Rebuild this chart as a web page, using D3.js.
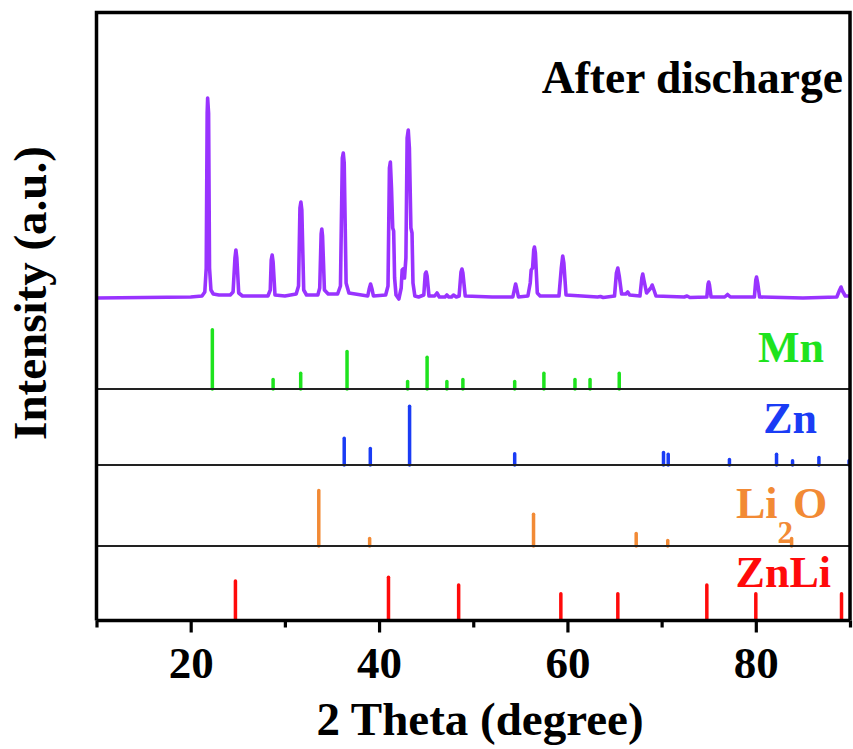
<!DOCTYPE html>
<html><head><meta charset="utf-8">
<script src="https://cdn.jsdelivr.net/npm/d3@7"></script>
<style>body{margin:0;background:#fff}</style>
</head><body><svg id="c" width="853" height="749"></svg>
<script>
// ---------- data ----------
const xTicks = [20, 40, 60, 80];
const xMinorTicks = [10, 30, 50, 70, 90];

// measured XRD pattern "After discharge": [2theta, intensity]
const afterDischarge = [
 [10,0],[15,0.5],[20,1],[21.2,2],[21.5,6],[21.65,30],[21.75,185],[21.8,200],[21.9,185],[22.0,30],[22.15,8],[22.4,4],[23,3],
 [24.2,3],[24.5,6],[24.7,40],[24.8,48],[24.9,40],[25.1,5],[25.5,2],[28.2,2],[28.45,8],[28.55,38],[28.65,43],[28.75,36],[28.95,3],
 [30,2],[31.2,4],[31.45,12],[31.6,90],[31.7,96],[31.8,88],[32.0,8],[32.3,3],[33.5,3],[33.7,10],[33.85,64],[33.92,69],[34.0,62],
 [34.2,8],[34.6,4],[35.6,4],[35.9,12],[36.1,140],[36.2,145],[36.3,135],[36.5,15],[36.8,5],[38.8,2],[38.95,9],[39.1,14],[39.25,9],
 [39.4,2],[40.7,3],[40.95,12],[41.1,130],[41.2,136],[41.32,110],[41.45,70],[41.55,67],[41.65,20],[41.8,3],[42.1,-1],[42.35,10],
 [42.45,28],[42.55,29],[42.7,20],[42.85,40],[42.98,160],[43.1,168],[43.22,150],[43.38,70],[43.5,65],[43.6,15],[43.8,2],[44.2,1],
 [44.75,3],[44.9,24],[45.0,26],[45.1,22],[45.3,2],[45.9,2],[46.15,5],[46.4,1],[47.0,1],[47.2,3],[47.4,1],[47.7,1],[47.9,3],
 [48.2,1],[48.5,2],[48.7,26],[48.8,29],[48.9,25],[49.15,2],[52,1],[54.2,1],[54.4,10],[54.5,14],[54.6,10],[54.8,1],[55.8,2],
 [56.05,15],[56.15,28],[56.3,30],[56.42,48],[56.5,51],[56.6,45],[56.8,5],[57.1,2],[59.1,2],[59.35,30],[59.5,42],[59.62,35],
 [59.85,3],[63.2,1],[63.5,1.5],[63.8,0.5],[65.0,2],[65.2,25],[65.35,30],[65.5,22],[65.75,4],[66.2,4],[66.4,6],[66.6,3],[67.7,2],
 [67.9,20],[68.0,24],[68.12,18],[68.4,5],[68.85,10],[69.0,13],[69.15,9],[69.4,2],[72.4,1],[72.7,2],[73.0,0.5],[74.8,1],[74.93,14],
 [75.0,16],[75.08,13],[75.25,1],[76.7,1],[77.0,3.5],[77.3,1],[79.85,1],[80.0,18],[80.08,21],[80.2,15],[80.4,1],[85,0],[88.6,1],
 [88.9,8],[89.05,11],[89.2,7],[89.5,2],[90,2]
];

// reference patterns (position, relative intensity)
const mnPos = [22.3, 28.75, 31.68, 36.6, 43.03, 45.1, 47.2, 48.9, 54.4, 57.5, 60.8, 62.4, 65.5];
const mnInt = [95, 17, 27, 61, 14, 52, 14, 17, 14, 27, 17, 17, 27];
const znPos = [36.3, 39.07, 43.24, 54.4, 70.2, 70.7, 77.2, 82.2, 83.9, 86.7, 89.9];
const znInt = [44, 28, 94, 20, 22, 19, 11, 19, 9, 14, 9];
const li2oPos = [33.6, 39.0, 56.4, 67.3, 70.65, 83.8];
const li2oInt = [89, 14, 52, 22, 11, 14];
const znliPos = [24.75, 41.0, 48.45, 59.3, 65.35, 74.8, 80.0, 89.1];
const znliInt = [64, 70, 58, 44, 44, 58, 44, 44];

// ---------- drawing ----------
const svg = d3.select("#c");
const font = "'Liberation Serif','Times New Roman',serif";
const L = 96.5, R = 850, T = 12.5, B = 620.5;
const x = d3.scaleLinear().domain([10, 90]).range([L, R]);
const yMain = d3.scaleLinear().domain([0, 200]).range([298, 98]);
const stickH = d3.scaleLinear().domain([0, 100]).range([0, 64]);

svg.append("defs").append("clipPath").attr("id", "clip")
  .append("rect").attr("x", L).attr("y", T).attr("width", R - L).attr("height", B - T);

const plot = svg.append("g").attr("clip-path", "url(#clip)");

// purple trace
plot.append("path")
  .datum(afterDischarge)
  .attr("d", d3.line().x(d => x(d[0])).y(d => yMain(d[1])))
  .attr("fill", "none").attr("stroke", "#9933ff").attr("stroke-width", 3.6)
  .attr("stroke-linejoin", "round");

const panels = [
  {pos: mnPos, ints: mnInt, base: 389, color: "#1ee31e"},
  {pos: znPos, ints: znInt, base: 465, color: "#1a3cf5"},
  {pos: li2oPos, ints: li2oInt, base: 546, color: "#f28a35"},
  {pos: znliPos, ints: znliInt, base: 620.5, color: "#ff0a0a"}
];
panels.forEach(p => {
  plot.append("g").selectAll("line").data(p.pos.map((v, i) => [v, p.ints[i]])).join("line")
    .attr("x1", d => x(d[0])).attr("x2", d => x(d[0]))
    .attr("y1", p.base).attr("y2", d => p.base - stickH(d[1]) + 1.5)
    .attr("stroke", p.color).attr("stroke-width", 3.5).attr("stroke-linecap", "round");
});

// separators
[389, 465, 546].forEach(yv => {
  svg.append("line").attr("x1", L).attr("x2", R).attr("y1", yv).attr("y2", yv)
    .attr("stroke", "#222").attr("stroke-width", 2);
});

// frame
svg.append("path")
  .attr("d", `M${L},${B}V${T}H${R}V${B}`)
  .attr("fill", "none").attr("stroke", "#000").attr("stroke-width", 3.5);

// x axis
const ax = svg.append("g").attr("transform", `translate(0,${B})`)
  .call(d3.axisBottom(x).tickValues(xTicks).tickSize(12).tickPadding(14).tickFormat(d3.format("d")));
ax.select(".domain").attr("stroke-width", 3.5).attr("d", `M${L},0H${R}`);
ax.selectAll(".tick line").attr("stroke-width", 3.2);
ax.selectAll(".tick text").attr("font-family", font).attr("font-weight", "bold")
  .attr("font-size", 45).attr("fill", "#000").attr("dy", null).attr("y", 57.5);
const minor = svg.append("g").attr("transform", `translate(0,${B})`)
  .call(d3.axisBottom(x).tickValues(xMinorTicks).tickSize(7).tickFormat(""));
minor.select(".domain").remove();
minor.selectAll(".tick line").attr("stroke-width", 3.2);

// texts
svg.append("text").attr("x", 480).attr("y", 735).attr("text-anchor", "middle")
  .attr("font-family", font).attr("font-weight", "bold").attr("font-size", 47)
  .text("2 Theta (degree)");
svg.append("text").attr("transform", "translate(46,293) rotate(-90)").attr("text-anchor", "middle")
  .attr("font-family", font).attr("font-weight", "bold").attr("font-size", 47)
  .text("Intensity (a.u.)");
svg.append("text").attr("x", 843).attr("y", 93).attr("text-anchor", "end")
  .attr("font-family", font).attr("font-weight", "bold").attr("font-size", 45.5)
  .text("After discharge");

const lab = (txt, xr, yb, color) => svg.append("text").attr("x", xr).attr("y", yb)
  .attr("text-anchor", "end").attr("font-family", font).attr("font-weight", "bold")
  .attr("font-size", 44).attr("fill", color).text(txt);
lab("Mn", 824, 362, "#1ee31e");
lab("Zn", 817, 433, "#1a3cf5");
lab("ZnLi", 831, 587, "#ff0a0a");
const li = svg.append("text").attr("x", 736).attr("y", 518)
  .attr("font-family", font).attr("font-weight", "bold").attr("font-size", 44).attr("fill", "#f28a35");
li.append("tspan").text("Li");
li.append("tspan").attr("font-size", 31).attr("dy", 25).text("2");
li.append("tspan").attr("dy", -25).text("O");
</script></body></html>
